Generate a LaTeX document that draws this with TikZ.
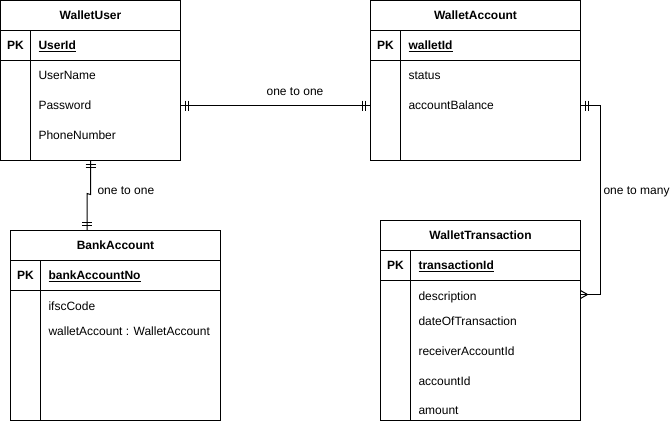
\documentclass[tikz,border=0pt]{standalone}
\usepackage{fontspec}
\setmainfont{Liberation Sans}
\usetikzlibrary{calc}
\begin{document}
\begin{tikzpicture}[x=1pt,y=-1pt,line width=1pt,
  entity/.style={draw,rectangle,anchor=north west,inner sep=0pt,outer sep=0pt},
  txt/.style={font=\fontsize{12}{14}\selectfont,inner sep=0pt,text height=8.6pt,text depth=0pt},
  title/.style={txt,font=\bfseries\fontsize{12}{14}\selectfont},
  pk/.style={title},
  keyfield/.style={title,anchor=west},
  field/.style={txt,anchor=west},
  lbl/.style={txt},
  rel/.style={draw,line width=1pt},
  tick/.style={draw,line width=1pt}]
\useasboundingbox (0,0) rectangle (671,431);
\fill[white] (0,0) rectangle (671,431);

% ---------- WalletUser ----------
\node[entity,minimum width=180pt,minimum height=160pt] (wu) at (0.5,0.5) {};
\draw (wu.north west) ++(0,30) -- ++(180,0);
\draw (wu.north west) ++(0,60) -- ++(180,0);
\draw (wu.north west) ++(30,30) -- ++(0,130);
\node[title] (wuT) at (90.5,15.5) {WalletUser};
\node[pk] (wuPK) at (15.5,45.5) {PK};
\node[keyfield] (wuK) at (38,45.5) {\underline{UserId}};
\node[field] (wuF1) at (38,75.5) {UserName};
\node[field] (wuF2) at (38,105.5) {Password};
\node[field] (wuF3) at (38,135.5) {PhoneNumber};

% ---------- WalletAccount ----------
\node[entity,minimum width=210pt,minimum height=160pt] (wa) at (370.5,0.5) {};
\draw (wa.north west) ++(0,30) -- ++(210,0);
\draw (wa.north west) ++(0,60) -- ++(210,0);
\draw (wa.north west) ++(30,30) -- ++(0,130);
\node[title] (waT) at (475.5,15.5) {WalletAccount};
\node[pk] (waPK) at (385.5,45.5) {PK};
\node[keyfield] (waK) at (408,45.5) {\underline{walletId}};
\node[field] (waF1) at (408,75.5) {status};
\node[field] (waF2) at (408,105.5) {accountBalance};

% ---------- BankAccount ----------
\node[entity,minimum width=210pt,minimum height=190pt] (ba) at (10.5,230.5) {};
\draw (ba.north west) ++(0,30) -- ++(210,0);
\draw (ba.north west) ++(0,60) -- ++(210,0);
\draw (ba.north west) ++(30,30) -- ++(0,160);
\node[title] (baT) at (115.5,245.5) {BankAccount};
\node[pk] (baPK) at (25.5,275.5) {PK};
\node[keyfield] (baK) at (48,275.5) {\underline{bankAccountNo}};
\node[field] (baF1) at (48,306) {ifscCode};
\node[field] (baF2) at (48,331) {walletAccount : WalletAccount};

% ---------- WalletTransaction ----------
\node[entity,minimum width=200pt,minimum height=200pt] (wt) at (380.5,220.5) {};
\draw (wt.north west) ++(0,30) -- ++(200,0);
\draw (wt.north west) ++(0,60) -- ++(200,0);
\draw (wt.north west) ++(30,30) -- ++(0,170);
\node[title] (wtT) at (480.5,235.5) {WalletTransaction};
\node[pk] (wtPK) at (395.5,265.5) {PK};
\node[keyfield] (wtK) at (418,265.5) {\underline{transactionId}};
\node[field] (wtF1) at (418,296.5) {description};
\node[field] (wtF2) at (418,321) {dateOfTransaction};
\node[field] (wtF3) at (418,351) {receiverAccountId};
\node[field] (wtF4) at (418,381) {accountId};
\node[field] (wtF5) at (418,410.5) {amount};

% ---------- WalletUser -- WalletAccount (one to one) ----------
\coordinate (r1a) at (wu.east |- wuF2);
\coordinate (r1b) at (wa.west |- wuF2);
\draw[rel] (r1a) -- (r1b);
\draw[tick] ($(r1a)+(5,-5)$) -- ++(0,10);
\draw[tick] ($(r1a)+(8,-5)$) -- ++(0,10);
\draw[tick] ($(r1b)+(-5,-5)$) -- ++(0,10);
\draw[tick] ($(r1b)+(-8,-5)$) -- ++(0,10);
\node[lbl] (l1) at (295,91.2) {one to one};

% ---------- WalletUser -- BankAccount (one to one) ----------
\coordinate (r2a) at (wu.south);
\coordinate (r2b) at ($(ba.north west)+(76.5,0)$);
\draw[rel] (r2a) -- ($(r2a)+(0,34)$) -- ($(r2b)+(0,-37)$) -- (r2b);
\draw[tick] ($(r2a)+(-5,4)$) -- ++(10,0);
\draw[tick] ($(r2a)+(-5,7)$) -- ++(10,0);
\draw[tick] ($(r2b)+(-5,-5)$) -- ++(10,0);
\draw[tick] ($(r2b)+(-5,-8)$) -- ++(10,0);
\node[lbl,anchor=west] (l2) at (97,189.7) {one to one};

% ---------- WalletAccount -- WalletTransaction (one to many) ----------
\coordinate (r3a) at (wa.east |- waF2);
\coordinate (r3b) at ($(wt.east |- wtF1)+(0,-2)$);
\draw[rel] (r3a) -- ($(r3a)+(20,0)$) |- (r3b);
\draw[tick] ($(r3a)+(5,-5)$) -- ++(0,10);
\draw[tick] ($(r3a)+(8,-5)$) -- ++(0,10);
\draw[rel] ($(r3b)+(0,-4)$) -- ($(r3b)+(7,0)$) -- ($(r3b)+(0,4)$);
\node[lbl,anchor=west] (l3) at (603,189.7) {one to many};
\end{tikzpicture}
\end{document}
